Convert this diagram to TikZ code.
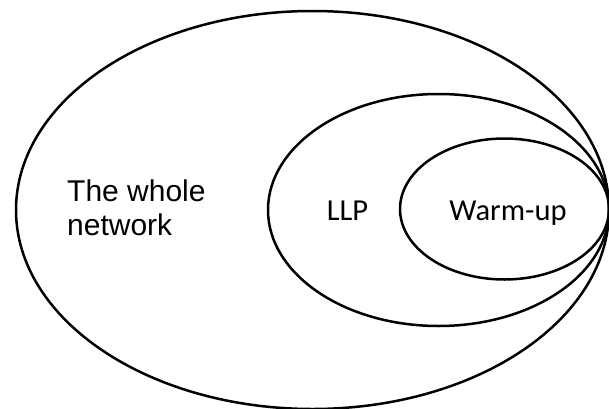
\documentclass[tikz,border=0pt]{standalone}
\usepackage{fontspec}
\setmainfont{Liberation Sans}
\newfontfamily\calib{Carlito}
\begin{document}
\begin{tikzpicture}[x=1pt,y=1pt,
  ring/.style={draw=black,line width=2.5pt},
  arialtxt/.style={font=\fontsize{30}{34}\selectfont,align=left,inner sep=0pt},
  calibtxt/.style={font=\calib\fontsize{30.5}{34}\selectfont,inner sep=0pt}]
\useasboundingbox (0,0) rectangle (609,408);
\draw[ring] (312.5,198) ellipse [x radius=296.5, y radius=199];
\draw[ring] (438.5,198) ellipse [x radius=170.5, y radius=116];
\draw[ring] (504.5,199) ellipse [x radius=104.5, y radius=70.5];
\node[arialtxt,anchor=base west] (whole) at (67,207) {The whole};
\node[arialtxt,anchor=base west] (net) at (67,173) {network};
\node[calibtxt,anchor=base] (llp) at (347.5,188) {LLP};
\node[calibtxt,anchor=base] (warm) at (508,188) {Warm-up};
\end{tikzpicture}
\end{document}
